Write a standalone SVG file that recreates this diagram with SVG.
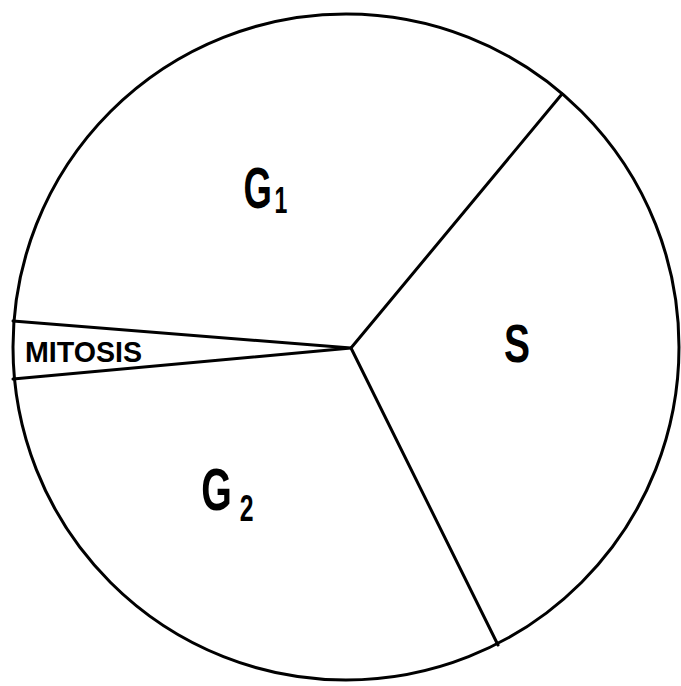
<svg xmlns="http://www.w3.org/2000/svg" width="681" height="686" viewBox="0 0 681 686">
<style>
.ln{stroke:#000;stroke-width:3;fill:none;stroke-linecap:round;stroke-linejoin:round}
.t{font-family:"Liberation Sans",Arial,sans-serif;font-weight:bold;fill:#000}
</style>
<rect width="681" height="686" fill="#fff"/>
<g id="connectors">
<circle class="ln" cx="346" cy="347" r="333"/>
<polyline class="ln" points="13,321 351,348 13,379"/>
<line class="ln" x1="351" y1="348" x2="562" y2="94"/>
<line class="ln" x1="351" y1="348" x2="498" y2="645"/>
</g>
<g id="g1">
<text class="t" transform="translate(243.5,208) scale(0.64,1)" font-size="57">G<tspan font-size="36" dx="4" dy="5">1</tspan></text>
</g>
<g id="s">
<text class="t" x="504" y="362" font-size="53" textLength="26" lengthAdjust="spacingAndGlyphs">S</text>
</g>
<g id="g2">
<text class="t" transform="translate(201.2,510) scale(0.67,1)" font-size="58.7">G<tspan font-size="37" dx="12" dy="11">2</tspan></text>
</g>
<g id="mitosis">
<text class="t" x="25" y="362" font-size="30" textLength="117" lengthAdjust="spacingAndGlyphs">MITOSIS</text>
</g>
</svg>
